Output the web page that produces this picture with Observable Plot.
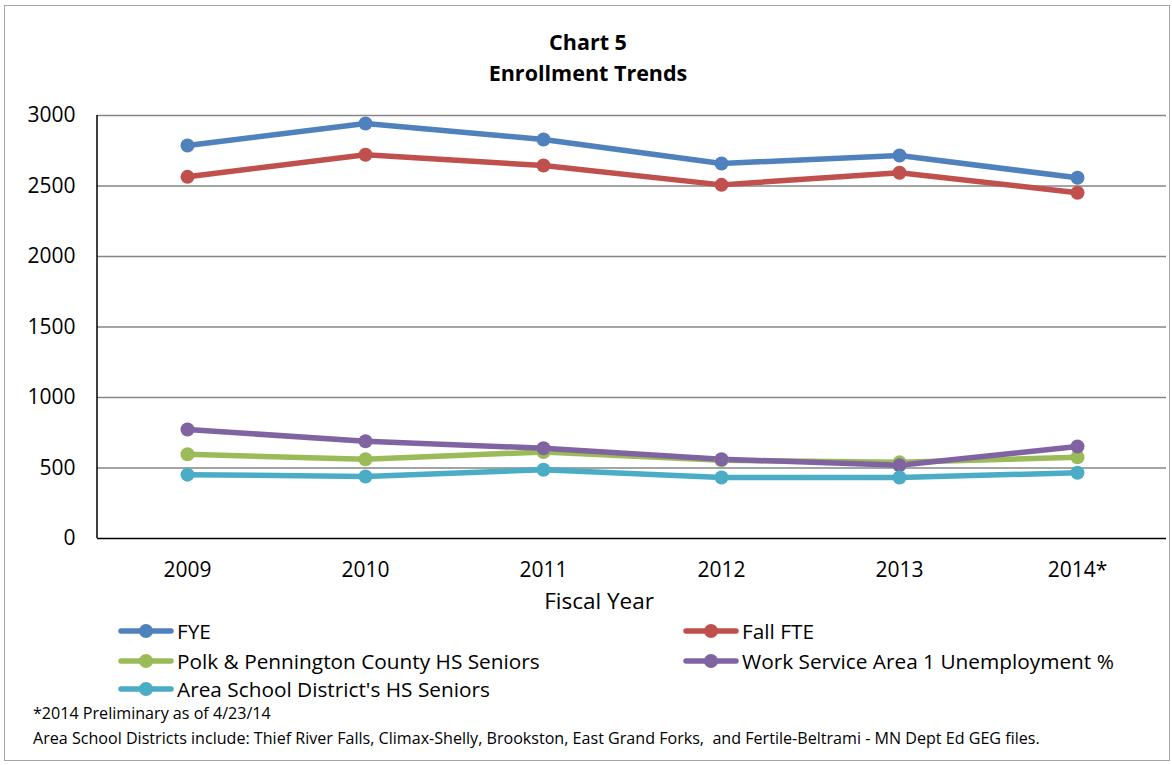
<!DOCTYPE html>
<html><head><meta charset="utf-8">
<script src="https://cdn.jsdelivr.net/npm/d3@7"></script>
<script src="https://cdn.jsdelivr.net/npm/@observablehq/plot@0.6"></script>
<style>
body{margin:0;background:#fff;font-family:"Open Sans",Lato,sans-serif;}
#page{position:relative;width:1172px;height:765px;overflow:hidden;}
#border{position:absolute;left:4px;top:5px;width:1166px;height:756px;border:1.5px solid #a6a6a6;box-sizing:border-box;}
#title{position:absolute;left:0;width:1176px;top:26px;text-align:center;font-weight:bold;font-size:21.5px;line-height:31px;color:#000;}
#plot{position:absolute;left:0;top:95px;}
#xlabel{position:absolute;left:524px;width:150px;text-align:center;top:585px;font-size:22.5px;}
.leg{position:absolute;font-size:20.8px;display:flex;align-items:center;height:26px;white-space:nowrap;}
.leg svg{margin-right:3px;}
.note{position:absolute;left:33px;font-size:16.1px;white-space:nowrap;}
</style></head>
<body><div id="page"><div id="border"></div>
<div id="title">Chart 5<br>Enrollment Trends</div>
<div id="plot"></div>
<div id="xlabel">Fiscal Year</div>
<div id="legend"></div>
<div class="note" style="top:702px">*2014 Preliminary as of 4/23/14</div>
<div class="note" style="top:727px">Area School Districts include: Thief River Falls, Climax-Shelly, Brookston, East Grand Forks,&nbsp; and Fertile-Beltrami - MN Dept Ed GEG files.</div>
</div>
<script>
const years = ["2009","2010","2011","2012","2013","2014*"];
const seriesNames = ["FYE","Fall FTE","Polk & Pennington County HS Seniors","Work Service Area 1 Unemployment %","Area School District's HS Seniors"];
const colors = ["#4F81BD","#C0504D","#9BBB59","#8064A2","#4BACC6"];
const fye = [2787,2943,2830,2660,2716,2558];
const fallFte = [2565,2722,2645,2508,2594,2452];
const polk = [597,562,614,555,540,576];
const workService = [773,690,640,562,520,652];
const areaSchool = [453,440,488,433,433,466];
const yTicks = [0,500,1000,1500,2000,2500,3000];

const allSeries = [fye,fallFte,polk,workService,areaSchool];
const data = [];
allSeries.forEach((vals,i)=>vals.forEach((v,j)=>data.push({series:seriesNames[i],year:years[j],value:v})));

const leftAxisLine = (index, scales, values, dims) => {
  const g = d3.create("svg:line")
    .attr("x1", dims.marginLeft).attr("x2", dims.marginLeft)
    .attr("y1", scales.y(3000)).attr("y2", scales.y(0))
    .attr("stroke", "#000").attr("stroke-width", 1.5);
  return g.node();
};

const chart = Plot.plot({
  width:1172, height:525,
  marginLeft:97, marginRight:6, marginTop:20, marginBottom:82,
  style:{fontFamily:"'Open Sans', Lato, sans-serif", fontSize:"21px", color:"#000", background:"transparent"},
  x:{type:"band", domain:years, label:null, tickSize:0, tickPadding:24, padding:0},
  y:{domain:[0,3000], ticks:yTicks, label:null, tickSize:0, tickPadding:22, tickFormat:d=>String(d)},
  color:{domain:seriesNames, range:colors},
  marks:[
    Plot.ruleY(yTicks.filter(d=>d>0), {stroke:"#868686", strokeWidth:1.5}),
    leftAxisLine,
    Plot.ruleY([0], {stroke:"#000", strokeWidth:1.5}),
    Plot.line(data, {x:"year", y:"value", z:"series", stroke:"series", strokeWidth:5.5, strokeLinejoin:"round"}),
    Plot.dot(data, {x:"year", y:"value", fill:"series", r:7, stroke:null})
  ]
});
document.getElementById("plot").appendChild(chart);
const legend = document.getElementById("legend");
const pos = [[118,618],[683,618],[118,648],[683,648],[118,676]];
seriesNames.forEach((n,i)=>{
  const d = document.createElement("div");
  d.className="leg";
  d.style.left=pos[i][0]+"px"; d.style.top=pos[i][1]+"px";
  d.innerHTML=`<svg width="56" height="20"><line x1="3" y1="10" x2="53" y2="10" stroke="${colors[i]}" stroke-width="5.5" stroke-linecap="round"/><circle cx="28" cy="10" r="7" fill="${colors[i]}"/></svg><span>${n}</span>`;
  legend.appendChild(d);
});
</script>
</body></html>
